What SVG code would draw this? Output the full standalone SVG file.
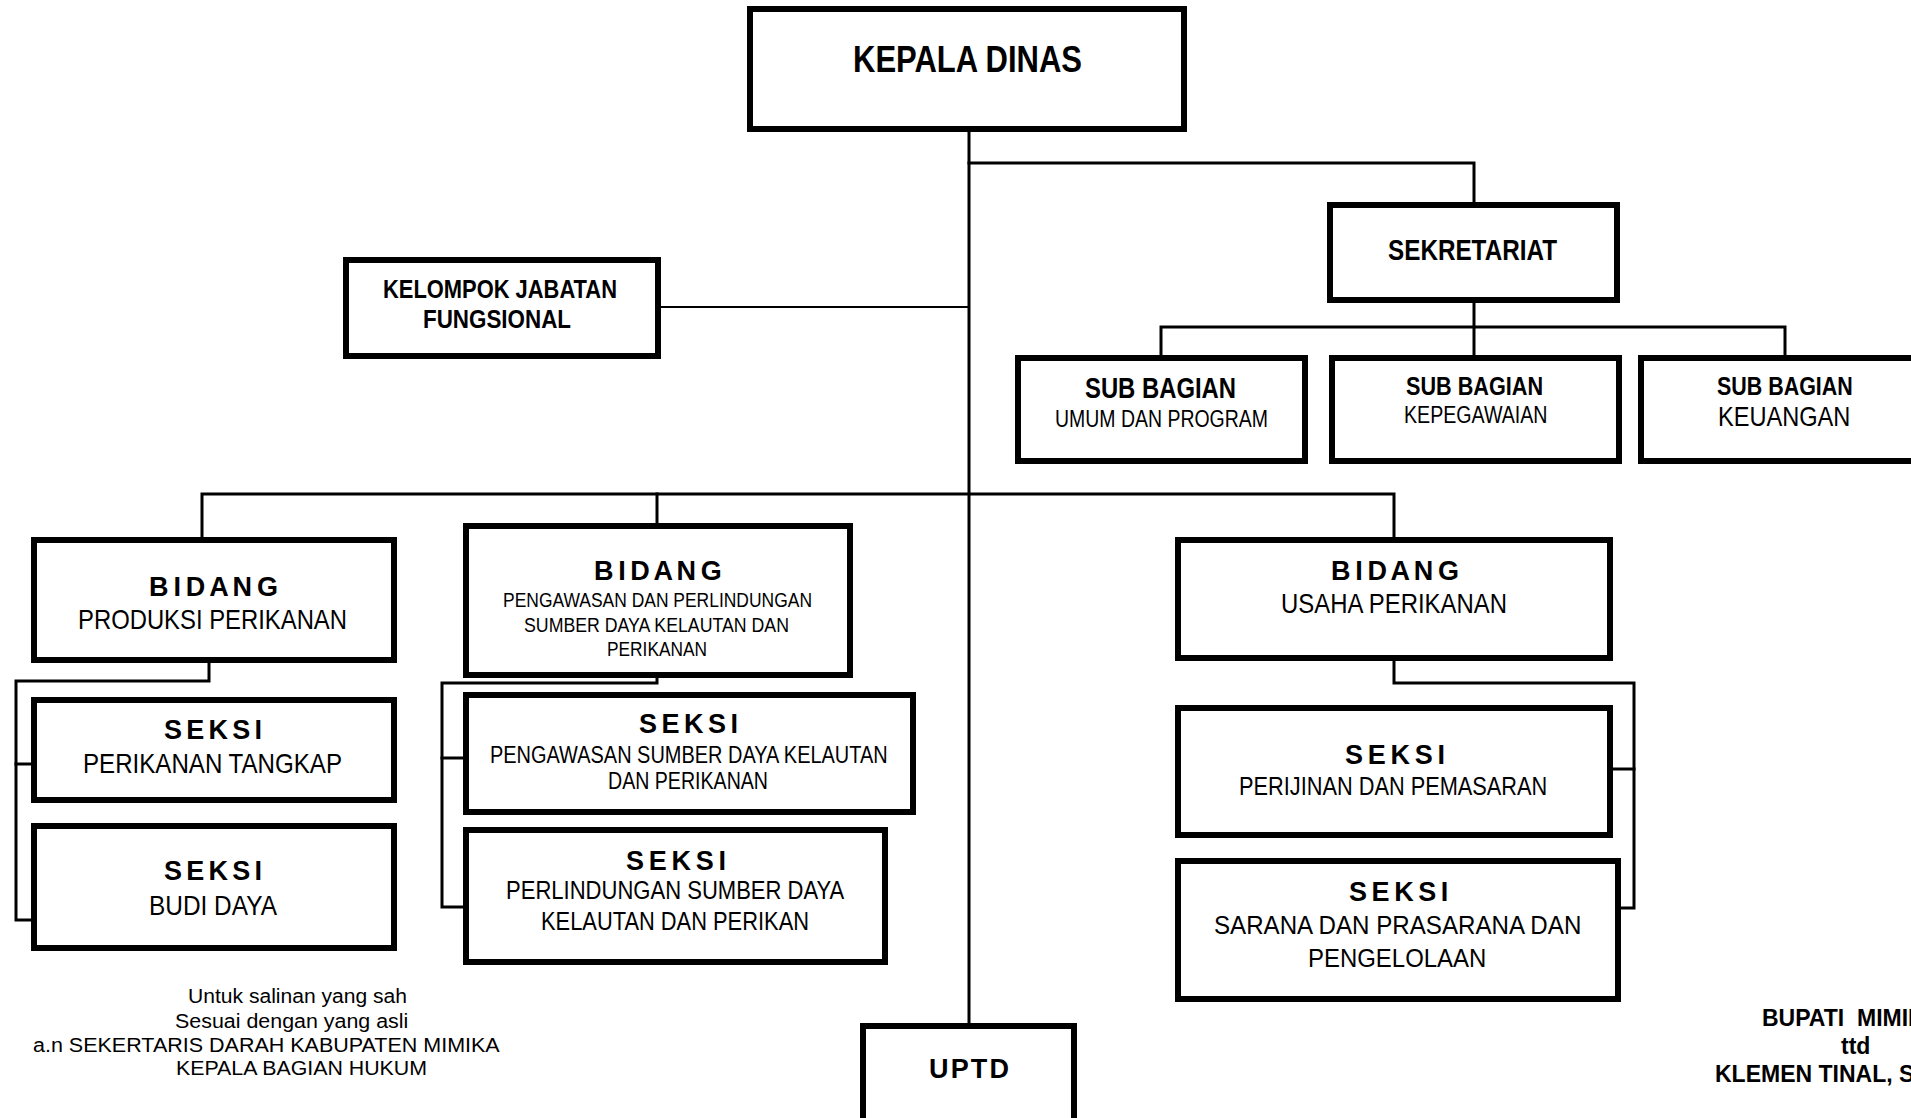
<svg xmlns="http://www.w3.org/2000/svg" width="1911" height="1118" viewBox="0 0 1911 1118">
  <style>
    .box { fill: #fff; stroke: #000; stroke-width: 6; }
    .ln { fill: none; stroke: #000; stroke-width: 3; stroke-linejoin: miter; stroke-linecap: square; }
    .thin { stroke-width: 2; }
    .nb { font-family: "Liberation Sans Narrow", "Liberation Sans", Arial, sans-serif; font-stretch: condensed; font-weight: bold; fill: #000; }
    .nr { font-family: "Liberation Sans Narrow", "Liberation Sans", Arial, sans-serif; font-stretch: condensed; fill: #000; }
    .sp { font-family: "Liberation Sans Narrow", "Liberation Sans", Arial, sans-serif; font-stretch: condensed; font-weight: bold; font-size: 27px; fill: #000; }
    .note { font-family: "Liberation Sans", Arial, sans-serif; font-size: 19.5px; fill: #000; }
    .sig { font-family: "Liberation Sans", Arial, sans-serif; font-weight: bold; font-size: 23px; fill: #000; }
  </style>
  <rect width="1911" height="1118" fill="#fff"/>

  <!-- connectors -->
  <g id="connectors">
    <path class="ln" d="M969,132 V1023"/>
    <path class="ln" d="M969,163 H1474 V205"/>
    <path class="ln thin" d="M661,307 H969"/>
    <path class="ln" d="M1474,303 V358"/>
    <path class="ln" d="M1161,358 V327 H1785 V356"/>
    <path class="ln" d="M202,537 V494 H1394 V537"/>
    <path class="ln" d="M657,494 V523"/>
    <path class="ln" d="M209,663 V681 H16 V920 H31"/>
    <path class="ln" d="M16,764 H39"/>
    <path class="ln" d="M657,678 V683 H442 V907 H465"/>
    <path class="ln" d="M442,758 H465"/>
    <path class="ln" d="M1394,661 V683 H1634 V908 H1611"/>
    <path class="ln" d="M1634,769 H1613"/>
  </g>

  <g id="kepala-dinas">
    <rect class="box" x="750" y="9" width="434" height="120" stroke-width="6.5"/>
    <text class="nb" x="853" y="72" font-size="37" textLength="229" lengthAdjust="spacingAndGlyphs">KEPALA DINAS</text>
  </g>

  <g id="kelompok-jabatan-fungsional">
    <rect class="box" x="346" y="260" width="312" height="96"/>
    <text class="nb" x="383" y="298" font-size="26" textLength="234" lengthAdjust="spacingAndGlyphs">KELOMPOK JABATAN</text>
    <text class="nb" x="423" y="328" font-size="26" textLength="148" lengthAdjust="spacingAndGlyphs">FUNGSIONAL</text>
  </g>

  <g id="sekretariat">
    <rect class="box" x="1330" y="205" width="287" height="95"/>
    <text class="nb" x="1388" y="260" font-size="29" textLength="169" lengthAdjust="spacingAndGlyphs">SEKRETARIAT</text>
  </g>

  <g id="subbag-umum">
    <rect class="box" x="1018" y="358" width="287" height="103"/>
    <text class="nb" x="1085" y="398" font-size="29" textLength="151" lengthAdjust="spacingAndGlyphs">SUB BAGIAN</text>
    <text class="nr" x="1055" y="427" font-size="23.5" textLength="213" lengthAdjust="spacingAndGlyphs">UMUM DAN PROGRAM</text>
  </g>

  <g id="subbag-kepegawaian">
    <rect class="box" x="1332" y="358" width="287" height="103"/>
    <text class="nb" x="1406" y="395" font-size="26" textLength="137" lengthAdjust="spacingAndGlyphs">SUB BAGIAN</text>
    <text class="nr" x="1404" y="423" font-size="23.5" textLength="143.5" lengthAdjust="spacingAndGlyphs">KEPEGAWAIAN</text>
  </g>

  <g id="subbag-keuangan">
    <rect class="box" x="1641" y="358" width="300" height="103"/>
    <text class="nb" x="1717" y="395" font-size="26" textLength="135.7" lengthAdjust="spacingAndGlyphs">SUB BAGIAN</text>
    <text class="nr" x="1718" y="426" font-size="28" textLength="132.4" lengthAdjust="spacingAndGlyphs">KEUANGAN</text>
  </g>

  <g id="bidang-produksi">
    <rect class="box" x="34" y="540" width="360" height="120"/>
    <text class="sp" x="149" y="596" textLength="129">B I D A N G</text>
    <text class="nr" x="78" y="629" font-size="28" textLength="269" lengthAdjust="spacingAndGlyphs">PRODUKSI PERIKANAN</text>
  </g>

  <g id="seksi-perikanan-tangkap">
    <rect class="box" x="34" y="700" width="360" height="100"/>
    <text class="sp" x="164" y="739" textLength="98">S E K S I</text>
    <text class="nr" x="83" y="773" font-size="28" textLength="259" lengthAdjust="spacingAndGlyphs">PERIKANAN TANGKAP</text>
  </g>

  <g id="seksi-budi-daya">
    <rect class="box" x="34" y="826" width="360" height="122"/>
    <text class="sp" x="164" y="880" textLength="98">S E K S I</text>
    <text class="nr" x="149" y="915" font-size="28" textLength="128" lengthAdjust="spacingAndGlyphs">BUDI DAYA</text>
  </g>

  <g id="bidang-pengawasan">
    <rect class="box" x="466" y="526" width="384" height="149"/>
    <text class="sp" x="594" y="580" textLength="127.7">B I D A N G</text>
    <text class="nr" x="503" y="607" font-size="20" textLength="309" lengthAdjust="spacingAndGlyphs">PENGAWASAN DAN PERLINDUNGAN</text>
    <text class="nr" x="524" y="632" font-size="20" textLength="265" lengthAdjust="spacingAndGlyphs">SUMBER DAYA KELAUTAN DAN</text>
    <text class="nr" x="607" y="656" font-size="20" textLength="100" lengthAdjust="spacingAndGlyphs">PERIKANAN</text>
  </g>

  <g id="seksi-pengawasan">
    <rect class="box" x="466" y="695" width="447" height="117"/>
    <text class="sp" x="639" y="733" textLength="99">S E K S I</text>
    <text class="nr" x="490" y="763" font-size="23" textLength="397.7" lengthAdjust="spacingAndGlyphs">PENGAWASAN SUMBER DAYA KELAUTAN</text>
    <text class="nr" x="608" y="789" font-size="23" textLength="160" lengthAdjust="spacingAndGlyphs">DAN PERIKANAN</text>
  </g>

  <g id="seksi-perlindungan">
    <rect class="box" x="466" y="830" width="419" height="132"/>
    <text class="sp" x="626" y="870" textLength="100">S E K S I</text>
    <text class="nr" x="506" y="899" font-size="25" textLength="338.3" lengthAdjust="spacingAndGlyphs">PERLINDUNGAN SUMBER DAYA</text>
    <text class="nr" x="541" y="930" font-size="25" textLength="268" lengthAdjust="spacingAndGlyphs">KELAUTAN DAN PERIKAN</text>
  </g>

  <g id="bidang-usaha">
    <rect class="box" x="1178" y="540" width="432" height="118"/>
    <text class="sp" x="1331" y="580" textLength="128">B I D A N G</text>
    <text class="nr" x="1281" y="613" font-size="27" textLength="226" lengthAdjust="spacingAndGlyphs">USAHA PERIKANAN</text>
  </g>

  <g id="seksi-perijinan">
    <rect class="box" x="1178" y="708" width="432" height="127"/>
    <text class="sp" x="1345" y="764" textLength="100">S E K S I</text>
    <text class="nr" x="1239" y="795" font-size="26" textLength="308.3" lengthAdjust="spacingAndGlyphs">PERIJINAN DAN PEMASARAN</text>
  </g>

  <g id="seksi-sarana">
    <rect class="box" x="1178" y="861" width="440" height="138"/>
    <text class="sp" x="1349" y="901" textLength="99.3">S E K S I</text>
    <text class="nr" x="1214" y="934" font-size="26" textLength="367.3" lengthAdjust="spacingAndGlyphs">SARANA DAN PRASARANA DAN</text>
    <text class="nr" x="1308" y="967" font-size="26" textLength="178.3" lengthAdjust="spacingAndGlyphs">PENGELOLAAN</text>
  </g>

  <g id="uptd">
    <rect class="box" x="863" y="1026" width="211" height="100"/>
    <text class="sp" x="929" y="1078" font-size="25" textLength="80">U P T D</text>
  </g>

  <!-- certification note, bottom left -->
  <g id="note">
    <text class="note" x="188" y="1003" textLength="219" lengthAdjust="spacingAndGlyphs">Untuk salinan yang sah</text>
    <text class="note" x="175" y="1028" textLength="233.3" lengthAdjust="spacingAndGlyphs">Sesuai dengan  yang asli</text>
    <text class="note" x="33" y="1052" textLength="466.7" lengthAdjust="spacingAndGlyphs">a.n SEKERTARIS DARAH KABUPATEN MIMIKA</text>
    <text class="note" x="176" y="1075" textLength="251" lengthAdjust="spacingAndGlyphs">KEPALA BAGIAN HUKUM</text>
  </g>

  <!-- signature block, bottom right -->
  <g id="signature">
    <text class="sig" x="1762" y="1026" xml:space="preserve">BUPATI  MIMIKA</text>
    <text class="sig" x="1841" y="1054">ttd</text>
    <text class="sig" x="1715" y="1082">KLEMEN TINAL, S</text>
  </g>
</svg>
